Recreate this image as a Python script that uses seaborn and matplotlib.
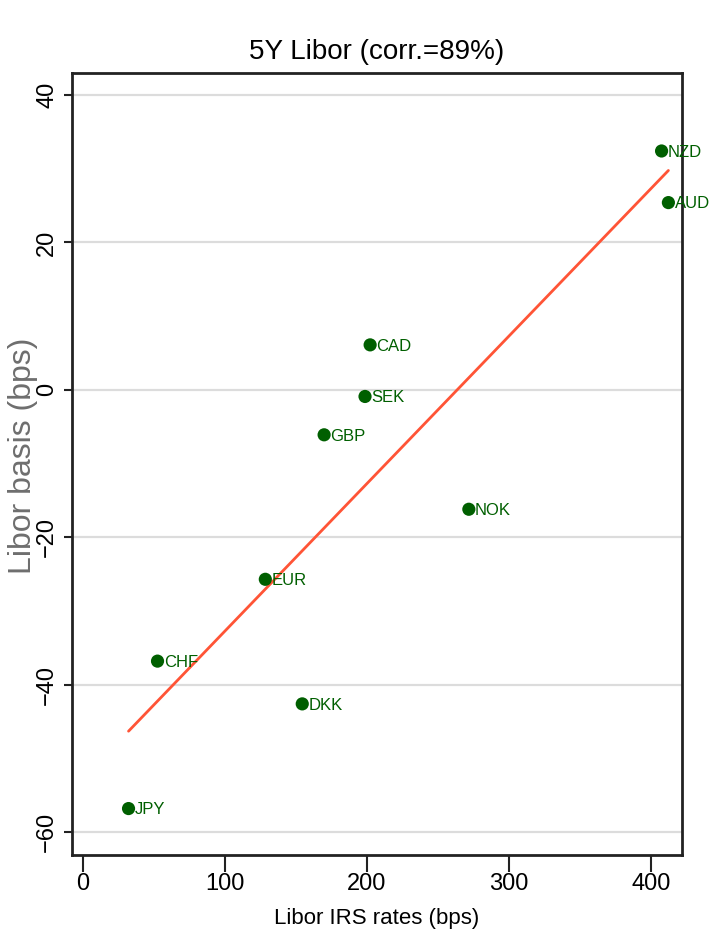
import matplotlib
matplotlib.use("Agg")
import matplotlib.pyplot as plt
import seaborn as sns
import pandas as pd

# values
currencies = ["NZD", "AUD", "CAD", "SEK", "GBP", "NOK", "EUR", "CHF", "DKK", "JPY"]
irs_rates = [407.4, 412.2, 202.2, 198.6, 169.8, 271.7, 128.4, 52.5, 154.4, 32.1]
libor_basis = [32.4, 25.4, 6.1, -0.9, -6.1, -16.2, -25.7, -36.8, -42.6, -56.8]
x_ticks = [0, 100, 200, 300, 400]
y_ticks = [-60, -40, -20, 0, 20, 40]

df = pd.DataFrame({"ccy": currencies, "irs": irs_rates, "basis": libor_basis})

sns.set_style("white")
plt.rcParams["font.family"] = ["Liberation Sans", "DejaVu Sans"]
plt.rcParams["text.color"] = "black"
plt.rcParams["xtick.color"] = "black"
plt.rcParams["ytick.color"] = "black"
plt.rcParams["axes.labelcolor"] = "black"

green = "#005f00"

fig = plt.figure(figsize=(7.18, 9.48), dpi=100)
ax = fig.add_axes([0.1003, 0.0981, 0.8496, 0.8249])

sns.regplot(data=df, x="irs", y="basis", ax=ax, ci=None, truncate=True,
            scatter_kws={"color": green, "s": 90, "alpha": 1, "edgecolor": "none", "zorder": 3},
            line_kws={"color": "#ff5436", "linewidth": 2, "zorder": 2})

for _, r in df.iterrows():
    ax.annotate(r["ccy"], (r["irs"], r["basis"]), xytext=(4.5, -1), textcoords="offset points",
                ha="left", va="center", fontsize=12, color=green, zorder=4,
                annotation_clip=True).set_clip_on(True)

ax.set_xlim(-7.7, 421.8)
ax.set_ylim(-63.1, 42.98)
ax.set_xticks(x_ticks)
ax.set_yticks(y_ticks)
ax.grid(axis="y", color="#dcdcdc", linewidth=1.6)
ax.set_axisbelow(True)

for s in ax.spines.values():
    s.set_linewidth(2)
    s.set_color("#222222")

ax.tick_params(axis="x", length=12, width=1.5, pad=1, labelsize=17, bottom=True, color="#222222")
ax.tick_params(axis="y", length=6, width=1.5, pad=4, labelsize=17, left=True, color="#222222",
               labelrotation=90)
for lab in ax.get_yticklabels():
    lab.set_va("center")

ax.set_title("5Y Libor (corr.=89%)", fontsize=20, pad=10)
ax.set_xlabel("Libor IRS rates (bps)", fontsize=16, labelpad=9)
ax.set_ylabel("Libor basis (bps)", fontsize=23, color="#6e6e6e")
ax.yaxis.set_label_coords(-0.056, 0.51)

fig.savefig("out.png", dpi=100)
